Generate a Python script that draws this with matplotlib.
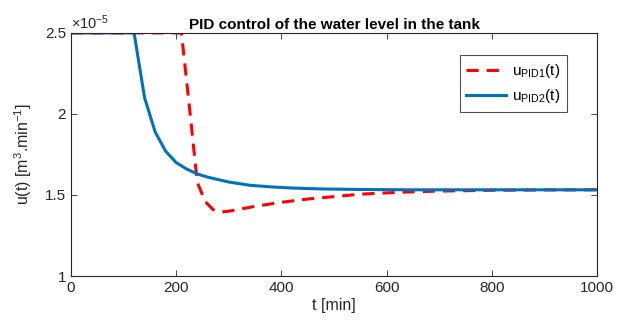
import matplotlib
matplotlib.use("Agg")
import matplotlib.pyplot as plt
from matplotlib.ticker import FuncFormatter

plt.rcParams['font.family'] = ['Liberation Sans', 'DejaVu Sans']
plt.rcParams['mathtext.fontset'] = 'custom'
plt.rcParams['mathtext.rm'] = 'Liberation Sans'

# time [min]
t_pid1 = [0, 210, 225, 240, 255, 270, 285, 300, 350, 400, 450, 500, 550, 600, 650, 700, 800, 900, 1000]
u_pid1 = [2.5e-5, 2.5e-5, 2.05e-5, 1.58e-5, 1.46e-5, 1.41e-5, 1.395e-5, 1.40e-5, 1.43e-5, 1.455e-5,
          1.475e-5, 1.49e-5, 1.505e-5, 1.513e-5, 1.52e-5, 1.524e-5, 1.529e-5, 1.531e-5, 1.532e-5]

t_pid2 = [0, 120, 140, 160, 180, 200, 220, 240, 260, 280, 300, 340, 380, 420, 480, 550, 650, 800, 1000]
u_pid2 = [2.5e-5, 2.5e-5, 2.10e-5, 1.89e-5, 1.77e-5, 1.70e-5, 1.66e-5, 1.63e-5, 1.61e-5, 1.595e-5,
          1.58e-5, 1.56e-5, 1.55e-5, 1.543e-5, 1.537e-5, 1.534e-5, 1.532e-5, 1.532e-5, 1.532e-5]

x_ticks = [0, 200, 400, 600, 800, 1000]
y_ticks = [1e-5, 1.5e-5, 2e-5, 2.5e-5]

fig = plt.figure(figsize=(6.22, 3.29), dpi=100)
ax = fig.add_axes([0.114, 0.161, 0.846, 0.739])

ax.plot(t_pid1, u_pid1, color='#FF0000', lw=2.2, ls=(0, (4, 2.6)), label=r'$\mathregular{u_{PID1}(t)}$')
ax.plot(t_pid2, u_pid2, color='#0072BD', lw=2.2, label=r'$\mathregular{u_{PID2}(t)}$')

ax.set_xlim(0, 1000)
ax.set_ylim(1e-5, 2.5e-5)
ax.set_xticks(x_ticks)
ax.set_yticks(y_ticks)
ax.yaxis.set_major_formatter(FuncFormatter(lambda v, p: '%g' % round(v / 1e-5, 3)))
ax.text(0.0, 1.005, r'$\mathregular{\times10^{-5}}$', transform=ax.transAxes, fontsize=10.5,
        color='#262626', ha='left', va='bottom')

ax.tick_params(direction='in', top=True, right=True, labelsize=11, colors='#262626', length=4, width=0.6)
for s in ax.spines.values():
    s.set_linewidth(0.8)
    s.set_color('#262626')

ax.set_xlabel('t [min]', fontsize=11.5, color='#262626', labelpad=2)
ax.set_ylabel(r'u(t) [m$\mathregular{^3}$.min$\mathregular{^{-1}}$]', fontsize=11.5, color='#262626', labelpad=8)
ax.set_title('PID control of the water level in the tank', fontsize=11, fontweight='bold', pad=3)

leg = ax.legend(loc='upper right', bbox_to_anchor=(0.958, 0.94), fontsize=11, frameon=True,
                fancybox=False, edgecolor='#262626', handlelength=2.6, borderpad=0.45,
                labelspacing=0.45, handletextpad=0.4)
leg.get_frame().set_linewidth(0.8)

fig.savefig('out.png', dpi=100)
